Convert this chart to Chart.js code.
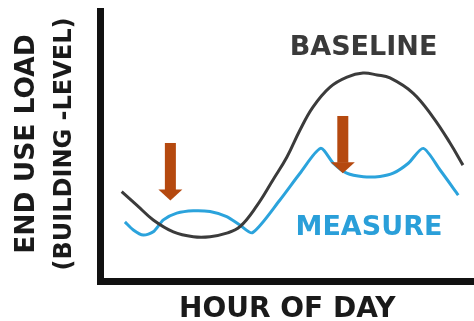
<!DOCTYPE html>
<html><head><meta charset="utf-8">
<script src="https://cdn.jsdelivr.net/npm/chart.js@4"></script>
<style>html,body{margin:0;padding:0;background:#fff}canvas{display:block}</style>
</head><body>
<canvas id="c" width="474" height="321"></canvas>
<script>
// ---- data (hour of day, relative load) ----
const baselineHours = [1.36, 2.33, 3.39, 4.68, 5.96, 7.04, 8.11, 8.96, 10.04, 11.08, 11.98, 12.82, 13.65, 14.75, 15.84, 16.87, 17.77, 18.60, 20.08, 21.36, 22.46, 23.29];
const baselineLoad  = [3.33, 2.83, 2.28, 1.84, 1.66, 1.66, 1.79, 2.03, 2.80, 3.76, 4.61, 5.61, 6.46, 7.20, 7.57, 7.72, 7.65, 7.54, 6.98, 6.09, 5.13, 4.31];
const measureHours  = [1.57, 2.11, 2.75, 3.39, 4.04, 4.90, 5.96, 7.04, 8.11, 8.96, 9.77, 11.53, 12.82, 14.14, 14.96, 15.82, 16.89, 17.96, 18.81, 19.78, 20.74, 21.82, 22.99];
const measureLoad   = [2.21, 1.91, 1.72, 1.84, 2.28, 2.53, 2.62, 2.59, 2.40, 2.09, 1.81, 3.02, 4.01, 4.93, 4.38, 4.01, 3.88, 3.89, 4.01, 4.38, 4.93, 4.13, 3.20];
const arrowHours = [4.49, 15.57];
const arrowFrom  = [5.13, 6.13];
const arrowTo    = [3.00, 4.01];
const seriesNames = ['BASELINE', 'MEASURE'];
const xTitle = 'HOUR OF DAY';
const yTitle = ['END USE LOAD', '(BUILDING -LEVEL)'];

const FONT = '"DejaVu Sans", sans-serif';
const toXY = (xs, ys) => xs.map((x, i) => ({x, y: ys[i]}));

const annot = {
  id: 'annot',
  afterDatasetsDraw(chart) {
    const {ctx, scales: {x, y}} = chart;
    ctx.save();
    // arrows
    ctx.fillStyle = '#b5490f';
    const shaftW = 11, headW = 24, headH = 11;
    arrowHours.forEach((h, i) => {
      const px = x.getPixelForValue(h);
      const top = y.getPixelForValue(arrowFrom[i]);
      const tip = y.getPixelForValue(arrowTo[i]);
      const base = tip - headH;
      ctx.fillRect(px - shaftW / 2, top, shaftW, base - top + 0.5);
      ctx.beginPath();
      ctx.moveTo(px - headW / 2, base);
      ctx.lineTo(px + headW / 2, base);
      ctx.lineTo(px, tip);
      ctx.closePath();
      ctx.fill();
    });
    // series labels
    const labelPos = [[16.9, 8.65, '#3a3a3a'], [17.25, 1.98, '#2a9fd9']];
    ctx.font = 'bold 27px ' + FONT;
    ctx.textAlign = 'center';
    ctx.textBaseline = 'middle';
    seriesNames.forEach((n, i) => {
      ctx.fillStyle = labelPos[i][2];
      ctx.fillText(n, x.getPixelForValue(labelPos[i][0]), y.getPixelForValue(labelPos[i][1]));
    });
    ctx.restore();
  },
  afterDraw(chart) {
    const {ctx} = chart;
    ctx.save();
    ctx.fillStyle = '#1a1a1a';
    ctx.textAlign = 'center';
    ctx.textBaseline = 'middle';
    const lines = [[27, 144, 26.5], [65, 144, 24]];
    yTitle.forEach((t, i) => {
      ctx.save();
      ctx.translate(lines[i][0], lines[i][1]);
      ctx.rotate(-Math.PI / 2);
      ctx.font = 'bold ' + lines[i][2] + 'px ' + FONT;
      ctx.fillText(t, 0, 0);
      ctx.restore();
    });
    ctx.restore();
  }
};

new Chart(document.getElementById('c'), {
  type: 'line',
  data: {
    datasets: [
      {label: seriesNames[0], data: toXY(baselineHours, baselineLoad), borderColor: '#3b3b3b', borderWidth: 3, pointRadius: 0, tension: 0.4, fill: false},
      {label: seriesNames[1], data: toXY(measureHours, measureLoad), borderColor: '#2ba3dc', borderWidth: 3, pointRadius: 0, tension: 0.25, fill: false}
    ]
  },
  options: {
    responsive: false,
    animation: false,
    devicePixelRatio: 1,
    layout: {padding: {left: 100.5, top: 11.5, right: 0, bottom: 0}},
    plugins: {legend: {display: false}, tooltip: {enabled: false}},
    scales: {
      x: {
        type: 'linear', min: 0, max: 24,
        grid: {display: false, drawTicks: false},
        ticks: {display: false},
        border: {display: true, width: 7, color: '#111'},
        title: {display: true, text: xTitle, color: '#1a1a1a', font: {family: FONT, size: 28, weight: 'bold', lineHeight: 0.8}, padding: {top: 17.1, bottom: 0}},
        afterFit(s) { s.height = 39.5; }
      },
      y: {
        type: 'linear', min: 0, max: 10,
        grid: {display: false, drawTicks: false},
        ticks: {display: false},
        border: {display: true, width: 7, color: '#111'},
        afterFit(s) { s.width = 0; }
      }
    }
  },
  plugins: [annot]
});
</script>
</body></html>
